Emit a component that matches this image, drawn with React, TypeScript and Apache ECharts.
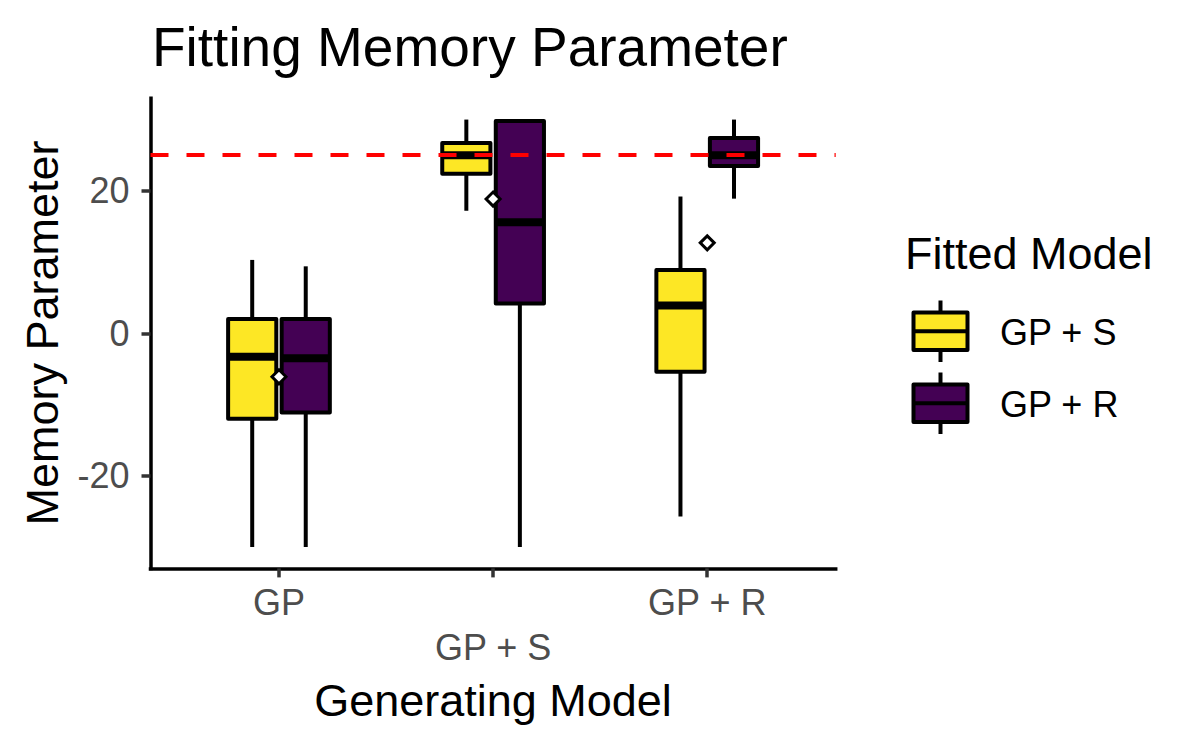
import React, { useEffect, useRef } from 'react';
import * as echarts from 'echarts';

const categories = ['GP', 'GP + S', 'GP + R'];
const fittedModels = ['GP + S', 'GP + R'];
// [lower whisker, Q1, median, Q3, upper whisker] for each generating model
const gpsStats = [
  [-30, -12.0, -3.3, 2.0, 10.3],
  [17.2, 22.4, 25.0, 26.7, 30.0],
  [-25.7, -5.4, 3.9, 8.9, 19.2],
];
const gprStats = [
  [-30, -11.1, -3.5, 2.0, 9.4],
  [-30, 4.2, 15.6, 29.8, 30.0],
  [18.9, 23.5, 25.0, 27.4, 30.0],
];
const meanValues = [-6.1, 18.85, 12.7];
const trueMemory = 25;
const yTicks = [-20, 0, 20];
const xTicks = [1, 2, 3];

const colors = ['#FDE725', '#440154'];
const FONT = '"Liberation Sans", Arial, Helvetica, sans-serif';
const HALF_W = 0.1125;
const DODGE = [-0.125, 0.125];
const LW = 4;

function makeBoxSeries(idx: number, stats: number[][]) {
  return {
    type: 'custom',
    name: fittedModels[idx],
    coordinateSystem: 'cartesian2d',
    z: 2,
    encode: { x: 0, y: [1, 2, 3, 4, 5] },
    data: stats.map((s, i) => [xTicks[i], ...s]),
    renderItem: (params: any, api: any) => {
      const xc = api.value(0) + DODGE[idx];
      const low = api.value(1);
      const q1 = api.value(2);
      const med = api.value(3);
      const q3 = api.value(4);
      const high = api.value(5);
      const pc = api.coord([xc, med]);
      const pl = api.coord([xc - HALF_W, q3]);
      const pr = api.coord([xc + HALF_W, q1]);
      const pHigh = api.coord([xc, high]);
      const pLow = api.coord([xc, low]);
      const ls = { stroke: '#000', lineWidth: LW, lineCap: 'butt' };
      return {
        type: 'group',
        children: [
          { type: 'line', shape: { x1: pc[0], y1: pHigh[1], x2: pc[0], y2: pl[1] }, style: ls },
          { type: 'line', shape: { x1: pc[0], y1: pr[1], x2: pc[0], y2: pLow[1] }, style: ls },
          {
            type: 'rect',
            shape: { x: pl[0], y: pl[1], width: pr[0] - pl[0], height: pr[1] - pl[1] },
            style: { fill: colors[idx], stroke: '#000', lineWidth: LW, lineJoin: 'round' },
          },
          {
            type: 'line',
            shape: { x1: pl[0], y1: pc[1], x2: pr[0], y2: pc[1] },
            style: { stroke: '#000', lineWidth: 8, lineCap: 'butt' },
          },
        ],
      };
    },
  };
}

function legendKey(idx: number, top: number) {
  const x0 = 913.5;
  const w = 54;
  const h = 37.5;
  const cx = x0 + w / 2;
  return [
    { type: 'line', shape: { x1: cx, y1: top - 12, x2: cx, y2: top }, style: { stroke: '#000', lineWidth: LW } },
    { type: 'line', shape: { x1: cx, y1: top + h, x2: cx, y2: top + h + 12 }, style: { stroke: '#000', lineWidth: LW } },
    {
      type: 'rect',
      shape: { x: x0, y: top, width: w, height: h },
      style: { fill: colors[idx], stroke: '#000', lineWidth: LW, lineJoin: 'round' },
    },
    {
      type: 'line',
      shape: { x1: x0, y1: top + h / 2, x2: x0 + w, y2: top + h / 2 },
      style: { stroke: '#000', lineWidth: 4 },
    },
    {
      type: 'text',
      x: 1000,
      y: top + h / 2 + 1,
      style: {
        text: fittedModels[idx],
        fontSize: 36,
        fontFamily: FONT,
        fill: '#000',
        align: 'left',
        verticalAlign: 'middle',
      },
    },
  ];
}

export default function App() {
  const ref = useRef<HTMLDivElement>(null);
  useEffect(() => {
    if (!ref.current) return;
    const chart = echarts.init(ref.current, undefined, { renderer: 'svg' });
    const option: any = {
      animation: false,
      backgroundColor: '#fff',
      grid: { left: 150.5, right: 364.3, top: 98.2, bottom: 181.6, containLabel: false },
      xAxis: {
        type: 'value',
        min: 0.4,
        max: 3.6,
        splitLine: { show: false },
        axisLine: { show: true, onZero: false, lineStyle: { color: '#000', width: 3.5, cap: 'square' } },
        axisTick: { show: true, customValues: xTicks, length: 9, lineStyle: { color: '#333', width: 3.5 } },
        axisLabel: {
          customValues: xTicks,
          margin: 12,
          fontSize: 36,
          lineHeight: 45,
          fontFamily: FONT,
          color: '#4D4D4D',
          formatter: (v: number) => (v === 2 ? '\n' + categories[1] : categories[Math.round(v) - 1]),
        },
      },
      yAxis: {
        type: 'value',
        min: -33,
        max: 33,
        splitLine: { show: false },
        axisLine: { show: true, onZero: false, lineStyle: { color: '#000', width: 3.5, cap: 'square' } },
        axisTick: { show: true, customValues: yTicks, length: 9, lineStyle: { color: '#333', width: 3.5 } },
        axisLabel: {
          customValues: yTicks,
          margin: 21,
          fontSize: 36,
          fontFamily: FONT,
          color: '#4D4D4D',
        },
      },
      series: [
        makeBoxSeries(0, gpsStats),
        makeBoxSeries(1, gprStats),
        {
          type: 'scatter',
          name: 'mean',
          z: 4,
          symbol: 'diamond',
          symbolSize: 14,
          itemStyle: { color: '#fff', borderColor: '#000', borderWidth: 3, opacity: 1 },
          data: meanValues.map((m, i) => [xTicks[i], m]),
          markLine: {
            silent: true,
            symbol: ['none', 'none'],
            label: { show: false },
            lineStyle: { color: '#FF0000', width: 4, type: [18, 18], opacity: 1 },
            data: [{ yAxis: trueMemory }],
          },
        },
      ],
      graphic: [
        {
          type: 'text',
          x: 152,
          y: 47,
          style: {
            text: 'Fitting Memory Parameter',
            fontSize: 55,
            fontFamily: FONT,
            fill: '#000',
            align: 'left',
            verticalAlign: 'middle',
          },
        },
        {
          type: 'text',
          x: 493,
          y: 700,
          style: {
            text: 'Generating Model',
            fontSize: 45,
            fontFamily: FONT,
            fill: '#000',
            align: 'center',
            verticalAlign: 'middle',
          },
        },
        {
          type: 'text',
          x: 42,
          y: 333,
          rotation: Math.PI / 2,
          style: {
            text: 'Memory Parameter',
            fontSize: 45,
            fontFamily: FONT,
            fill: '#000',
            align: 'center',
            verticalAlign: 'middle',
          },
        },
        {
          type: 'text',
          x: 905,
          y: 253,
          style: {
            text: 'Fitted Model',
            fontSize: 45,
            fontFamily: FONT,
            fill: '#000',
            align: 'left',
            verticalAlign: 'middle',
          },
        },
        ...legendKey(0, 312.5),
        ...legendKey(1, 384.5),
      ],
    };
    chart.setOption(option);
    return () => chart.dispose();
  }, []);
  return (
    <div
      ref={ref}
      style={{ position: 'absolute', left: 0, top: 0, width: 1200, height: 750 }}
    />
  );
}
